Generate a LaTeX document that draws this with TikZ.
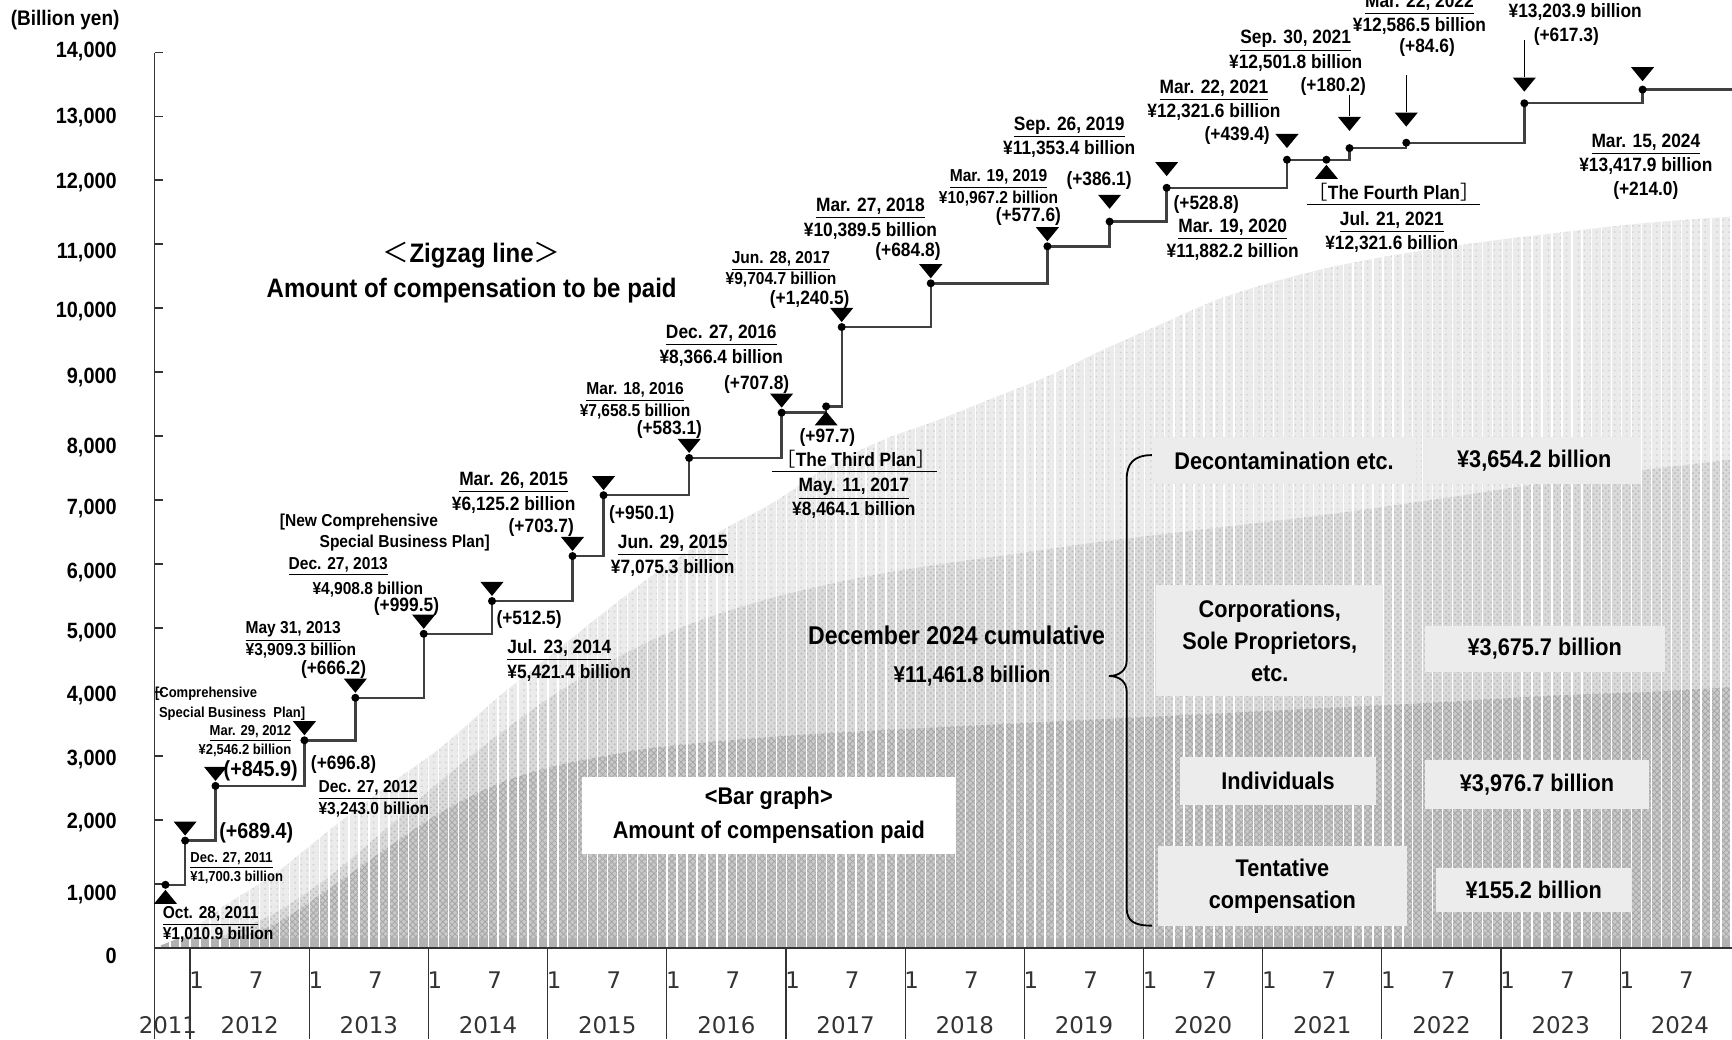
\documentclass[tikz,border=0pt]{standalone}
\usepackage{fontspec}
\setmainfont{Liberation Sans}[FakeStretch=0.9]
\newfontfamily\axisfont{DejaVu Sans}
\newfontfamily\cjk{Noto Sans CJK JP}
\usetikzlibrary{shapes.geometric,positioning,calc,patterns}

\begin{document}
\begin{tikzpicture}[x=0.55pt, y=-0.55pt,
  axis/.style={draw=black!80, line width=0.8pt},
  zig/.style={draw=black!75, line width=1.2pt},
  dot/.style={circle, fill=black, inner sep=0pt, minimum size=4pt},
  tridown/.style={isosceles triangle, isosceles triangle apex angle=80,
    isosceles triangle stretches, shape border rotate=270, fill=black,
    inner sep=0pt, minimum width=11.5pt, minimum height=7pt, anchor=apex},
  triup/.style={tridown, shape border rotate=90},
  stem/.style={draw=black, line width=0.7pt},
  decon/.style={fill=gray!16},
  corp/.style={fill=gray!30},
  indiv/.style={fill=gray!42},
  tent/.style={fill=gray!60},
  lblB/.style={font=\fontsize{13.3}{17.6}\selectfont\bfseries, inner sep=0pt, align=center},
  lblL/.style={font=\fontsize{10.9}{13}\selectfont\bfseries, inner sep=0pt, align=center},
  lblM/.style={font=\fontsize{9.6}{12.1}\selectfont\bfseries, inner sep=0pt, align=center},
  lblS/.style={font=\fontsize{8.6}{10.7}\selectfont\bfseries, inner sep=0pt, align=center},
  lblXS/.style={font=\fontsize{7.2}{9.6}\selectfont\bfseries, inner sep=0pt, align=center},
  axlab/.style={font=\fontsize{11}{13}\selectfont\bfseries, inner sep=0pt, anchor=east},
  yrlab/.style={font=\axisfont\fontsize{11.4}{13}\selectfont, text=black!80, inner sep=0pt},
  gbox/.style={fill=gray!15, font=\fontsize{12}{16}\selectfont\bfseries, align=center, inner sep=0pt}
]
\useasboundingbox (0,0) rectangle (1568,941);

% bar graph (stacked, monthly)
\begin{scope}
\clip (145,858) -- plot[smooth] coordinates {(145,856) (170,845) (200,822) (250,790) (300,750)
  (350,712) (400,676) (450,632) (500,592) (550,552) (600,514) (650,482) (700,455) (750,422)
  (800,398) (850,380) (900,360) (950,340) (1000,316) (1050,294) (1100,272) (1150,256)
  (1200,243) (1250,233) (1300,225) (1350,218) (1400,212) (1450,206) (1500,201) (1568,196)}
  -- (1568,858) -- cycle;
\fill[decon, postaction={pattern=dots, pattern color=gray!35}] (140,150) rectangle (1568,858);
\fill[corp, postaction={pattern=crosshatch dots, pattern color=gray!55}] (145,858)
  -- plot[smooth] coordinates {(170,857) (200,848) (250,826) (300,792) (350,750) (400,706)
  (450,666) (500,630) (550,600) (600,575) (650,556) (700,541) (750,529) (800,519) (850,511)
  (900,504) (950,497) (1000,490) (1100,478) (1200,466) (1300,452) (1400,437) (1500,424)
  (1568,416)} -- (1568,858) -- cycle;
\fill[indiv, postaction={pattern=crosshatch, pattern color=black!35}] (145,858)
  -- plot[smooth] coordinates {(170,857.5) (200,853) (250,836) (300,803) (350,768) (400,735)
  (450,710) (500,694) (550,684) (600,676) (700,667) (800,661) (900,656) (1000,651)
  (1100,646) (1200,641) (1300,636) (1400,630) (1500,626) (1568,622)} -- (1568,858) -- cycle;
\fill[tent] (140,849) rectangle (1568,858);
\foreach \i in {0,...,158}
  \draw[white, line width=0.7pt] (145+9*\i,858) -- (145+9*\i,150);
\end{scope}

% axes
\draw[axis] (140,48) -- (140,941);
\draw[axis] (140,858) -- (1568,858);
\foreach \k in {0,...,14}
  \draw[axis] (140,{858-57.9*\k}) -- ++(8,0);
\node[font=\fontsize{10.5}{12}\selectfont\bfseries, inner sep=0pt] (unit) at (59,18) {(Billion yen)};
\foreach \lab/\yy [count=\i] in {{14,000}/47,{13,000}/106,{12,000}/165,{11,000}/229,
  {10,000}/282,{9,000}/342,{8,000}/405,{7,000}/460,{6,000}/518,{5,000}/573,{4,000}/630,
  {3,000}/688,{2,000}/745,{1,000}/810,0/865}
  \node[axlab] (ylab\i) at (106,\yy) {\lab};
\node[yrlab] (yr11) at (152,928) {2011};
\foreach \i in {0,...,12} {
  \pgfmathsetmacro\xs{172+107.9*\i}
  \pgfmathtruncatemacro\yr{2012+\i}
  \draw[axis, line width=0.6pt] (\xs,858) -- (\xs,941);
  \node[yrlab] (mon1\i) at (\xs+6,887) {1};
  \node[yrlab] (mon7\i) at (\xs+60,887) {7};
  \node[yrlab] (yr\i) at (\xs+54,928) {\yr};
}

% zigzag line: amount to be paid
\coordinate (p1) at (149.8,801);
\coordinate (p2) at (167.6,761);
\coordinate (p3) at (195.1,711.5);
\coordinate (p4) at (275.6,670.2);
\coordinate (p5) at (321.7,631.7);
\coordinate (p6) at (383.6,573.8);
\coordinate (p7) at (445.4,544.1);
\coordinate (p8) at (518.3,503.4);
\coordinate (p9) at (546.4,448.3);
\coordinate (p10) at (623.9,414.6);
\coordinate (p11) at (707.6,373.6);
\coordinate (p12) at (747.9,367.9);
\coordinate (p13) at (762,296.1);
\coordinate (p14) at (842.6,256.5);
\coordinate (p15) at (948.2,223.0);
\coordinate (p16) at (1004.5,200.6);
\coordinate (p17) at (1056.2,170.0);
\coordinate (p18) at (1165.1,144.6);
\coordinate (p19) at (1200.8,144.6);
\coordinate (p20) at (1221.7,134.1);
\coordinate (p21) at (1273.1,129.2);
\coordinate (p22) at (1380,93.5);
\coordinate (p23) at (1487,81.1);
\coordinate (pend) at (1568,81.1);
\draw[zig] (p1) -| (p2) -| (p3) -| (p4) -| (p5) -| (p6) -| (p7) -| (p8) -| (p9) -| (p10)
  -| (p11) -| (p12) -| (p13) -| (p14) -| (p15) -| (p16) -| (p17) -| (p18) -| (p19)
  -| (p20) -| (p21) -| (p22) -| (p23) -- (pend);
\foreach \i in {1,...,23}
  \node[dot] (d\i) at (p\i) {};

% markers
\node[triup] (m1) at ($(p1)+(0,4)$) {};
\foreach \i in {2,...,11,13,14,15}
  \node[tridown] (m\i) at ($(p\i)+(0,-4)$) {};
\node[triup] (m12) at ($(p12)+(0,4)$) {};
\node[tridown] (m16) at ($(p16)+(0,-11)$) {};
\node[tridown] (m17) at ($(p17)+(0,-10)$) {};
\node[tridown] (m18) at ($(p18)+(0,-10)$) {};
\node[triup] (m19) at ($(p19)+(0,4)$) {};
\node[tridown] (m20) at ($(p20)+(0,-15)$) {};
\node[tridown] (m21) at ($(p21)+(0,-14)$) {};
\node[tridown] (m22) at ($(p22)+(0,-10)$) {};
\node[tridown] (m23) at ($(p23)+(0,-7)$) {};
\coordinate (s20) at (1221.7,86);
\coordinate (s21) at (1273.1,68);
\coordinate (s22) at (1380,36);
\draw[stem] (s20) -- (m20.lower side);
\draw[stem] (s21) -- (m21.lower side);
\draw[stem] (s22) -- (m22.lower side);

% labels of the zigzag line
\node[lblS, anchor=west, align=left] (oct11) at (147,837) {\underline{Oct. 28, 2011}\\¥1,010.9 billion};
\node[lblXS, anchor=west, align=left] (dec11) at (172,786) {\underline{Dec. 27, 2011}\\¥1,700.3 billion};
\node[lblL] (inc1) at (232,754) {(+689.4)};
\node[lblL] (inc2) at (236,698) {(+845.9)};
\node[lblXS, anchor=east, align=right] (mar12) at (264,671) {\underline{Mar. 29, 2012}\\¥2,546.2 billion};
\node[lblXS, anchor=west, align=left] (csbp) at (140,637) {[Comprehensive\\\hspace*{2pt}Special Business\ \ Plan]};
\node[lblM] (inc3) at (311,692) {(+696.8)};
\node[lblS, anchor=west, align=left] (dec12) at (288,723) {\underline{Dec. 27, 2012}\\¥3,243.0 billion};
\node[lblS, anchor=west, align=left] (may13) at (222,579) {\underline{May 31, 2013}\\¥3,909.3 billion};
\node[lblM] (inc4) at (302,606) {(+666.2)};
\node[lblS, anchor=west, align=left] (ncsbp) at (253,482) {[New Comprehensive\\\hspace*{19.8pt}Special Business Plan]};
\node[lblS, anchor=west] (dec13) at (261,513) {\underline{Dec. 27, 2013}};
\node[lblS] (val13) at (333,534) {¥4,908.8 billion};
\node[lblM] (inc5) at (368,549) {(+999.5)};
\node[lblM] (inc6) at (479,561) {(+512.5)};
\node[lblM, anchor=west, align=left] (jul14) at (459,598) {\underline{Jul. 23, 2014}\\¥5,421.4 billion};
\node[lblM] (mar15) at (465,446) {\underline{Mar. 26, 2015}\\¥6,125.2 billion};
\node[lblM] (inc7) at (490,478) {(+703.7)};
\node[lblM] (inc8) at (581,466) {(+950.1)};
\node[lblM] (jun15) at (609,503) {\underline{Jun. 29, 2015}\\¥7,075.3 billion};
\node[lblS] (mar16) at (575,363) {\underline{Mar. 18, 2016}\\¥7,658.5 billion};
\node[lblM] (inc9) at (606,389) {(+583.1)};
\node[lblM] (dec16) at (653,313) {\underline{Dec. 27, 2016}\\¥8,366.4 billion};
\node[lblM] (inc10) at (685,348) {(+707.8)};
\node[lblM] (inc11) at (749,396) {(+97.7)};
\node[lblM] (plan3) at (775,416) {{\cjk\mdseries ［}The Third Plan{\cjk\mdseries ］}};
\draw[line width=0.6pt] (699,427) -- (848,427);
\node[lblM] (may17) at (773,451) {\underline{May. 11, 2017}\\¥8,464.1 billion};
\node[lblS] (jun17) at (707,244) {\underline{Jun. 28, 2017}\\¥9,704.7 billion};
\node[lblM] (inc12) at (733,271) {(+1,240.5)};
\node[lblM] (mar18) at (788,198) {\underline{Mar. 27, 2018}\\¥10,389.5 billion};
\node[lblM] (inc13) at (822,228) {(+684.8)};
\node[lblS] (mar19) at (904,170) {\underline{Mar. 19, 2019}\\¥10,967.2 billion};
\node[lblM] (inc14) at (931,196) {(+577.6)};
\node[lblM] (sep19) at (968,124) {\underline{Sep. 26, 2019}\\¥11,353.4 billion};
\node[lblM] (inc15) at (995,163) {(+386.1)};
\node[lblM] (inc16) at (1092,185) {(+528.8)};
\node[lblM] (mar20) at (1116,217) {\underline{Mar. 19, 2020}\\¥11,882.2 billion};
\node[lblM] (mar21) at (1099,91) {\underline{Mar. 22, 2021}\\¥12,321.6 billion};
\node[lblM] (inc17) at (1120,123) {(+439.4)};
\node[lblM] (sep21) at (1173,46) {\underline{Sep. 30, 2021}\\¥12,501.8 billion};
\node[lblM] (inc18) at (1207,78) {(+180.2)};
\node[lblM] (plan4) at (1262,174) {{\cjk\mdseries ［}The Fourth Plan{\cjk\mdseries ］}};
\draw[line width=0.6pt] (1183,185) -- (1340,185);
\node[lblM] (jul21) at (1260,210) {\underline{Jul. 21, 2021}\\¥12,321.6 billion};
\node[lblM] (mar22) at (1285,13) {\underline{Mar. 22, 2022}\\¥12,586.5 billion};
\node[lblM] (inc19) at (1292,43) {(+84.6)};
\node[lblM] (val23) at (1426,11) {¥13,203.9 billion};
\node[lblM] (inc20) at (1418,33) {(+617.3)};
\node[lblM] (mar24) at (1490,151) {\underline{Mar. 15, 2024}\\¥13,417.9 billion\\(+214.0)};

% titles
\node[lblB] (zigttl) at (427,247) {{\cjk\mdseries ＜}Zigzag line{\cjk\mdseries ＞}\\Amount of compensation to be paid};
\node[gbox, fill=white, minimum width=186.5pt, minimum height=38.5pt, font=\fontsize{12}{17}\selectfont\bfseries] (barttl) at (696,738) {<Bar graph>\\Amount of compensation paid};

% breakdown, December 2024
\node[font=\fontsize{12.8}{15}\selectfont\bfseries, inner sep=0pt] (cum) at (866,575) {December 2024 cumulative};
\node[font=\fontsize{11.4}{14}\selectfont\bfseries, inner sep=0pt] (cumval) at (880,612) {¥11,461.8 billion};
\draw[line width=0.9pt] (1043,412) .. controls (1026,412) and (1020,420) .. (1020,434) -- (1020,598)
  .. controls (1020,607) and (1013,612) .. (1004,612) .. controls (1013,612) and (1020,617) .. (1020,626)
  -- (1020,822) .. controls (1020,834) and (1027,838) .. (1043,838);
\node[gbox, minimum width=131.5pt, minimum height=23.1pt] (decon) at (1162.5,417) {Decontamination etc.};
\node[gbox, minimum width=106.7pt, minimum height=23.1pt] (deconval) at (1389,417) {¥3,654.2 billion};
\node[gbox, minimum width=112.8pt, minimum height=55pt] (corp) at (1149.5,580) {Corporations,\\Sole Proprietors,\\etc.};
\node[gbox, minimum width=119.4pt, minimum height=22.6pt] (corpval) at (1398.5,587.5) {¥3,675.7 billion};
\node[gbox, minimum width=97.9pt, minimum height=24.2pt] (indiv) at (1157,707) {Individuals};
\node[gbox, minimum width=111.7pt, minimum height=24.2pt] (indivval) at (1391.5,710) {¥3,976.7 billion};
\node[gbox, minimum width=124.3pt, minimum height=39.6pt] (tent) at (1161,802) {Tentative\\compensation};
\node[gbox, minimum width=97.4pt, minimum height=22pt] (tentval) at (1388.5,806) {¥155.2 billion};
\end{tikzpicture}
\end{document}
